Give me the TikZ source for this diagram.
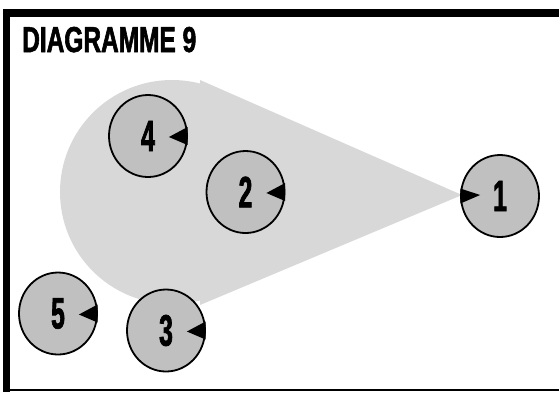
\documentclass[tikz,border=0pt]{standalone}
\usepackage{fontspec}
\newfontfamily\titlefont[FakeStretch=0.68,FakeBold=1.6]{Liberation Sans}
\newfontfamily\numfont[FakeStretch=0.56,FakeBold=1.6]{Liberation Sans}
\usetikzlibrary{shapes.geometric,calc}
\definecolor{zonegray}{RGB}{216,216,216}
\definecolor{piecegray}{RGB}{192,192,192}
\tikzset{
  piece/.style={ellipse, draw=black, line width=1.8pt, fill=piecegray,
    minimum width=78pt, minimum height=82pt, inner sep=0pt,
    font=\numfont\bfseries\fontsize{44}{44}\selectfont},
  pointer/.style={fill=black},
  zone/.style={fill=zonegray},
  frameline/.style={draw=black, line cap=butt}
}
\begin{document}
\begin{tikzpicture}[x=1pt,y=-1pt]
  \useasboundingbox (0,0) rectangle (559,392);
  \clip (0,0) rectangle (559,392);

  % shaded zone: round end plus wedge towards piece 1
  \fill[zone] (172,192) circle (112pt);
  \fill[zone] (200,80) -- (462,195) -- (200,305) -- cycle;

  % frame
  \draw[frameline, line width=8pt] (3,13) -- (565,13);
  \draw[frameline, line width=7pt] (6.5,9) -- (6.5,392);
  \draw[frameline, line width=2.2pt] (3,390) -- (565,390);

  % title
  \node[anchor=base west, inner sep=0pt,
        font=\titlefont\bfseries\fontsize{36}{36}\selectfont] (title) at (22,52) {DIAGRAMME 9};

  % pieces
  \node[piece] (n1) at (500,196) {1};
  \node[piece] (n2) at (245.5,192) {2};
  \node[piece] (n3) at (166,330.5) {3};
  \node[piece] (n4) at (148,136) {4};
  \node[piece] (n5) at (58,313.5) {5};

  % arrow tips on the pieces
  \fill[pointer] ($(n1.west)+(0.3,-7.5)$) -- ($(n1.west)+(20,-1)$) -- ($(n1.west)+(0.3,7.5)$) -- cycle;
  \foreach \p in {n2,n3,n4,n5}{
    \fill[pointer] ($(\p.east)+(-0.3,-9)$) -- ($(\p.east)+(-19,1)$) -- ($(\p.east)+(-0.3,9)$) -- cycle;
  }
\end{tikzpicture}
\end{document}
